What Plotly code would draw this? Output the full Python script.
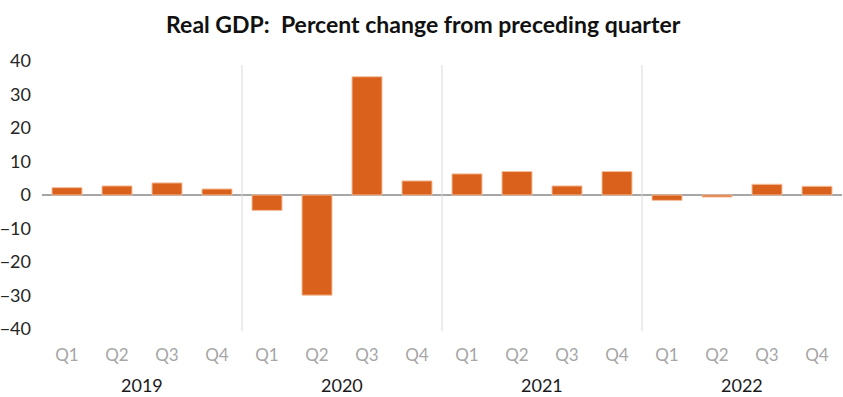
import plotly.graph_objects as go

years = ["2019", "2020", "2021", "2022"]
quarters = ["Q1", "Q2", "Q3", "Q4"]
gdp_change = [2.2, 2.7, 3.6, 1.8,
              -4.6, -29.9, 35.3, 4.2,
              6.3, 7.0, 2.7, 7.0,
              -1.6, -0.6, 3.2, 2.6]
y_ticks = [40, 30, 20, 10, 0, -10, -20, -30, -40]

n_q = len(quarters)
x_idx = list(range(len(gdp_change)))
tick_text = [quarters[i % n_q] for i in x_idx]

FONT = "Lato"
BAR = "#DA611B"

fig = go.Figure()
fig.add_trace(go.Bar(
    x=x_idx, y=gdp_change, width=0.6,
    marker=dict(color=BAR, line=dict(color="#F3BE9C", width=1)),
    hoverinfo="y",
))

shapes = []
for k in range(1, len(years)):
    xs = k * n_q - 0.5
    shapes.append(dict(type="line", xref="x", yref="paper", x0=xs, x1=xs,
                       y0=-0.008, y1=0.985, line=dict(color="#D9D9D9", width=1)))
annotations = []
for k, yr in enumerate(years):
    annotations.append(dict(x=k * n_q + (n_q - 1) / 2, y=-0.209, xref="x", yref="paper",
                            text=yr, showarrow=False, yanchor="middle",
                            font=dict(family=FONT, size=18, color="#1a1a1a")))

fig.update_layout(
    width=843, height=397,
    margin=dict(l=42, r=1, t=61, b=68),
    plot_bgcolor="white", paper_bgcolor="white",
    title=dict(text="<b>Real GDP:  Percent change from preceding quarter</b>",
               x=0.502, xanchor="center", y=0.937, yanchor="middle",
               font=dict(family=FONT, size=23, color="#111111")),
    showlegend=False,
    bargap=0.4,
    shapes=shapes,
    annotations=annotations,
    xaxis=dict(range=[-0.5, len(gdp_change) - 0.5], tickvals=x_idx, ticktext=tick_text,
               showgrid=False, zeroline=False, showline=False, ticks="",
               automargin=False,
               tickfont=dict(family=FONT, size=17, color="#A6A6A6"),
               ticklabelstandoff=14),
    yaxis=dict(range=[-40, 40], tickvals=y_ticks, showgrid=False,
               zeroline=True, zerolinecolor="#A6A6A6", zerolinewidth=1.5,
               showline=False, ticks="", automargin=False,
               tickfont=dict(family=FONT, size=18, color="#262626"),
               ticklabelstandoff=10),
)

fig.write_html("out.html", config={"displayModeBar": False},
               post_script="document.body.style.margin='0';document.body.style.overflow='hidden';")
